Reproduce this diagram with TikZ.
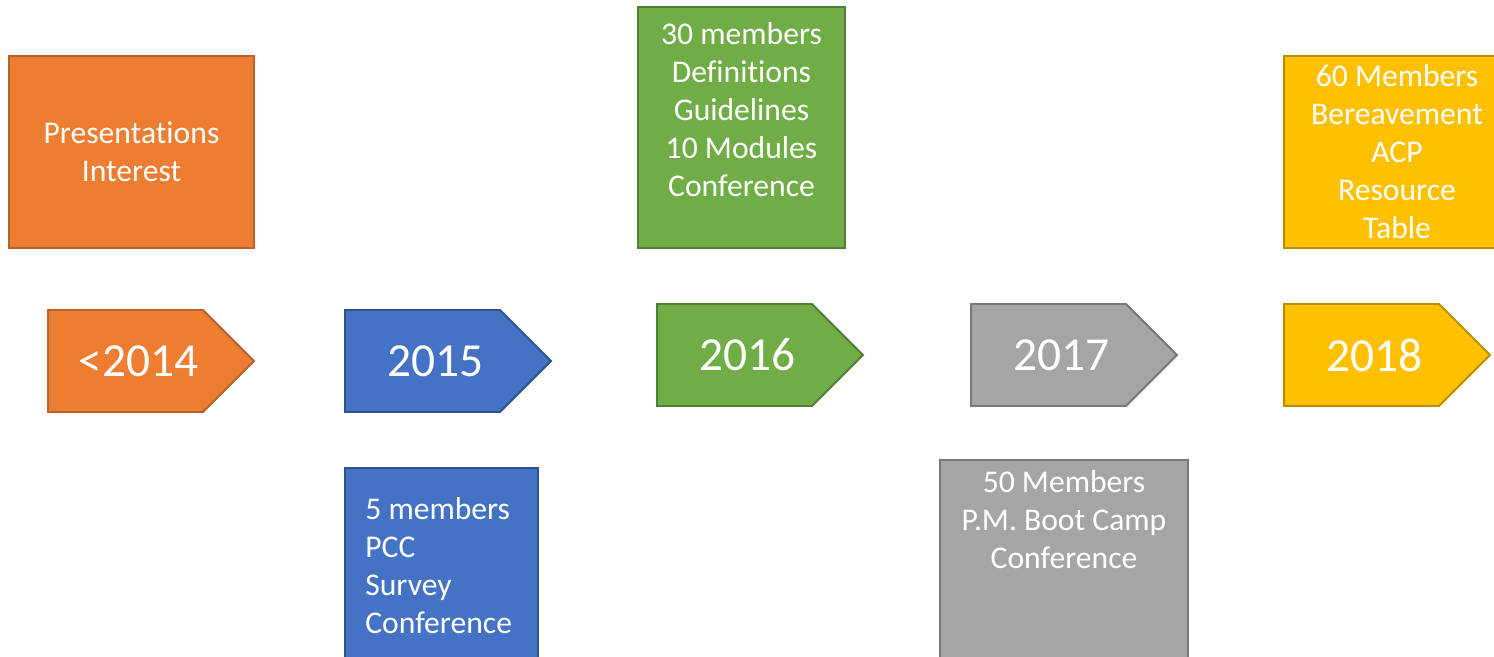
\documentclass[tikz,border=0pt]{standalone}
\usepackage{fontspec}
\setmainfont{Carlito}[Ligatures=NoCommon]
\usepackage{tikz}
\usetikzlibrary{shapes.symbols,positioning}
\definecolor{orangeFill}{HTML}{ED7D31}
\definecolor{orangeLine}{HTML}{B7622A}
\definecolor{blueFill}{HTML}{4472C4}
\definecolor{blueLine}{HTML}{2F528F}
\definecolor{greenFill}{HTML}{70AD47}
\definecolor{greenLine}{HTML}{507E32}
\definecolor{grayFill}{HTML}{A5A5A5}
\definecolor{grayLine}{HTML}{787878}
\definecolor{yellowFill}{HTML}{FFC000}
\definecolor{yellowLine}{HTML}{BC8C00}

\begin{document}
\begin{tikzpicture}[
        yearsign/.style={signal, signal to=east, signal pointer angle=90, draw, line width=1.1pt,
            minimum width=4.12cm, minimum height=2.04cm, inner sep=0pt},
        yeartext/.style={inner sep=0pt, text=white, font=\fontsize{27}{32}\selectfont},
        infobox/.style={rectangle, draw, line width=1.1pt, inner sep=0pt,
            text=white, align=center, font=\fontsize{18}{21.6}\selectfont},
        infotext/.style={inner sep=0pt, text=white, font=\fontsize{18}{21.6}\selectfont}]
                \useasboundingbox (0,0) rectangle (29.88,-13.12);
                % year arrows
                \node[yearsign, fill=orangeFill, draw=orangeLine] (y2014) at (2.51,-7.22) {};
                \node[yearsign, fill=blueFill, draw=blueLine] (y2015) at (8.45,-7.22) {};
                \node[yearsign, fill=greenFill, draw=greenLine] (y2016) at (14.69,-7.10) {};
                \node[yearsign, fill=grayFill, draw=grayLine] (y2017) at (20.97,-7.10) {};
                \node[yearsign, fill=yellowFill, draw=yellowLine] (y2018) at (27.23,-7.10) {};
                \node[yeartext] (t2014) at ([xshift=0.26cm]y2014.center) {<2014};
                \node[yeartext] (t2015) at ([xshift=0.26cm]y2015.center) {2015};
                \node[yeartext] (t2016) at ([xshift=0.26cm]y2016.center) {2016};
                \node[yeartext] (t2017) at ([xshift=0.26cm]y2017.center) {2017};
                \node[yeartext] (t2018) at ([xshift=0.26cm]y2018.center) {2018};
                % boxes above and below
                \node[infobox, fill=orangeFill, draw=orangeLine, minimum width=4.9cm, minimum height=3.84cm]
                    (b2014) at (2.63,-3.04) {Presentations\\Interest};
                \node[infobox, fill=blueFill, draw=blueLine, minimum width=3.86cm, minimum height=4.44cm]
                    (b2015) at (8.83,-11.58) {};
                \node[infobox, fill=greenFill, draw=greenLine, minimum width=4.14cm, minimum height=4.82cm]
                    (b2016) at (14.83,-2.55) {};
                \node[infobox, fill=grayFill, draw=grayLine, minimum width=4.96cm, minimum height=4.6cm]
                    (b2017) at (21.28,-11.5) {};
                \node[infobox, fill=yellowFill, draw=yellowLine, minimum width=4.52cm, minimum height=3.84cm]
                    (b2018) at (27.94,-3.04) {60 Members\\Bereavement\\ACP\\Resource\\Table};
                % texts of the boxes
                \node[infotext, anchor=west, align=left] (n2015) at (7.30,-11.31)
                    {5 members\\PCC\\Survey\\Conference};
                \node[infotext, align=center] (n2016) at (14.83,-2.19)
                    {30 members\\Definitions\\Guidelines\\10 Modules\\Conference};
                \node[infotext, align=center] (n2017) at (21.28,-10.40)
                    {50 Members\\P.M. Boot Camp\\Conference};
            \end{tikzpicture}
\end{document}
